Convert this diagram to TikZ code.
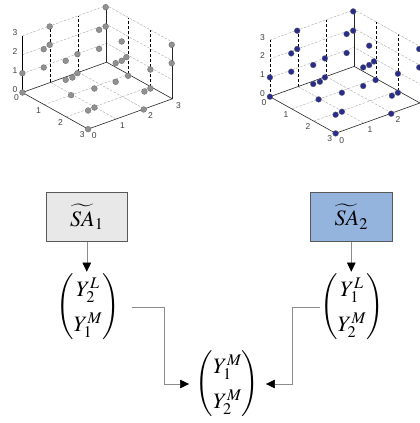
\documentclass[tikz,border=0pt]{standalone}
\usepackage{amsmath}
\usepackage{mathptmx}
\usepackage[no-math]{fontspec}
\newfontfamily\tickfont{Liberation Sans}
\usetikzlibrary{arrows.meta}
\definecolor{dotgray}{RGB}{145,145,145}
\definecolor{dotblue}{RGB}{40,44,140}
\definecolor{saone}{RGB}{232,232,232}
\definecolor{satwo}{RGB}{148,180,222}
\tikzset{
  gridln/.style={draw=black!35, line width=0.4pt, dash pattern=on 2.5pt off 1.5pt},
  vdash/.style={draw=black, line width=0.6pt, dash pattern=on 3pt off 2pt},
  axln/.style={draw=black!85, line width=0.6pt},
  zsolid/.style={draw=black, line width=0.7pt},
  zdash/.style={draw=black, line width=0.6pt, dash pattern=on 3pt off 2pt},
  dot/.style={draw=black!60, line width=0.3pt},
  ticklab/.style={font=\tickfont\fontsize{8.5}{10}\selectfont, text=black!75, inner sep=0pt},
  sabox/.style={draw=black!65, line width=0.6pt, inner sep=0pt, minimum width=81.7pt, minimum height=49.5pt, font=\fontsize{22}{26}\selectfont},
  matnode/.style={inner sep=0pt, font=\fontsize{22}{26}\selectfont},
  conn/.style={draw=black!45, line width=0.5pt, -{Triangle[length=9pt,width=8.5pt,color=black]}}
}
% #1 x, #2 y, #3 dot colour, #4 z-axis style, #5 list of b-axis labels
\newcommand{\cubeplot}[5]{%
\begin{scope}[xshift=#1pt, yshift=-#2pt]
 \begin{scope}[x={(21.9pt,-12.2pt)}, y={(28.1pt,10.1pt)}, z={(0pt,18.9pt)}]
   \foreach \k in {1,2} {
     \draw[gridln] (0,0,\k) -- (0,3,\k) -- (3,3,\k);
     \draw[gridln] (\k,0,0) -- (\k,3,0);
     \draw[gridln] (0,\k,0) -- (3,\k,0);
     \draw[vdash] (0,\k,0) -- (0,\k,3);
     \draw[vdash] (\k,3,0) -- (\k,3,3);
   }
   \draw[gridln] (0,0,3) -- (0,3,3) -- (3,3,3);
   \draw[axln] (0,0,0) -- (3,0,0) -- (3,3,0);
   \draw[axln] (0,0,0) -- (0,3,0) -- (3,3,0);
   \draw[axln] (0,3,0) -- (0,3,3);
   \draw[axln] (3,3,0) -- (3,3,3);
   \draw[#4] (0,0,0) -- (0,0,3);
 \end{scope}
 \foreach \px/\py in {83.3/-85.3, 27.3/-66, 83.3/-66, 76.7/-62.7, 27.3/-47.7, 21.3/-43.3,
   76.7/-43.7, 55/-38.3, 99.3/-51, 149.3/-47.7, 43.3/-31.7, 21.3/-25, 93.3/-29.3,
   99.3/-31.7, 104/-35.3, 149.3/-29.3, 0/-19.3, 55/-19.3, 43.3/-12.7, 50/-15,
   105.7/-16.7, 128/-23, 93.3/-10.7, 0/0, 72/-4, 128/-4, 122/-1, 48.7/2.7,
   72/15, 65.7/18, 121.3/17, 65.7/36.7}
   \filldraw[dot, fill=#3] (\px,\py) circle[radius=2.9];
 \foreach \k in {0,1,2,3} {
   \node[ticklab] at (-7.5, -3.4-18.7*\k) {\k};
   \node[ticklab] at (21.9*\k-5.8, 12.2*\k+5.5) {\k};
 }
 \foreach \k in {#5} {
   \node[ticklab] at (71.9+28.1*\k, 43.4-10.1*\k) {\k};
 }
\end{scope}}
\begin{document}
\begin{tikzpicture}[x=1pt, y=-1pt]
\clip (0,0) rectangle (420,423);
\fill[white] (0,0) rectangle (420,423);
\cubeplot{22.4}{92.5}{dotgray}{zsolid}{0,1,2,3}
\cubeplot{269.9}{96.7}{dotblue}{zdash}{0,1,2}

\node[sabox, fill=saone] (sa1) at (86.8,217) {$\widetilde{SA}_1$};
\node[sabox, fill=satwo] (sa2) at (351.3,216.7) {$\widetilde{SA}_2$};

\node[matnode] (m1) at (88,307) {\renewcommand{\arraystretch}{1.35}$\begin{pmatrix}Y_2^L\\ Y_1^M\end{pmatrix}$};
\node[matnode] (m2) at (352,307) {\renewcommand{\arraystretch}{1.35}$\begin{pmatrix}Y_1^L\\ Y_2^M\end{pmatrix}$};
\node[matnode, inner xsep=6.5pt] (m3) at (227.5,384) {\renewcommand{\arraystretch}{1.35}$\begin{pmatrix}Y_1^M\\ Y_2^M\end{pmatrix}$};

\draw[conn] (sa1.south) -- (sa1.south |- m1.north);
\draw[conn] (sa2.south) -- (sa2.south |- m2.north);
\draw[conn] ([xshift=11.7pt]m1.east) -- ++(32.3,0) |- (m3.west);
\draw[conn] (m2.west) -- ++(-28.3,0) |- (m3.east);
\end{tikzpicture}
\end{document}
